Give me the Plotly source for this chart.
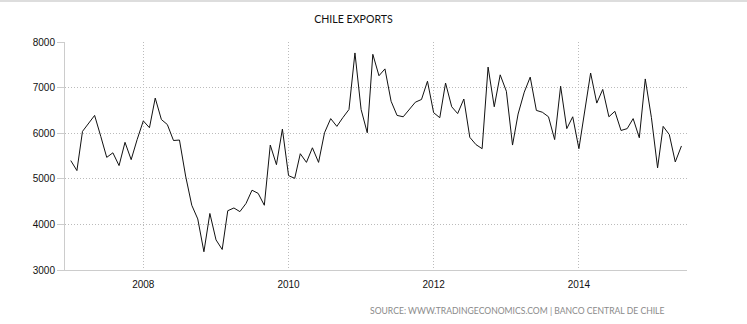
import pandas as pd
import plotly.graph_objects as go

# Monthly exports, USD million, Jan 2007 - Jun 2015
start_month = "2007-01-01"
exports = [
    # 2007
    5400, 5180, 6040, 6220, 6390, 5930, 5470, 5570, 5290, 5800, 5420, 5860,
    # 2008
    6270, 6120, 6770, 6300, 6190, 5840, 5850, 5060, 4420, 4120, 3400, 4240,
    # 2009
    3660, 3450, 4300, 4360, 4280, 4460, 4750, 4680, 4420, 5740, 5310, 6090,
    # 2010
    5070, 5010, 5550, 5360, 5680, 5360, 6010, 6320, 6150, 6340, 6520, 7760,
    # 2011
    6520, 6010, 7730, 7260, 7410, 6700, 6390, 6360, 6520, 6680, 6740, 7140,
    # 2012
    6450, 6340, 7100, 6580, 6430, 6750, 5910, 5750, 5660, 7450, 6580, 7280,
    # 2013
    6920, 5740, 6420, 6900, 7230, 6500, 6460, 6360, 5860, 7030, 6100, 6360,
    # 2014
    5660, 6520, 7320, 6660, 6960, 6360, 6480, 6060, 6100, 6320, 5900, 7190,
    # 2015
    6340, 5240, 6150, 5970, 5370, 5720,
]
months = pd.date_range(start_month, periods=len(exports), freq="MS")

x_ticks = ["2008-01-01", "2010-01-01", "2012-01-01", "2014-01-01"]
x_tick_labels = ["2008", "2010", "2012", "2014"]
y_ticks = [3000, 4000, 5000, 6000, 7000, 8000]

title_text = "CHILE EXPORTS"
source_text = "SOURCE: WWW.TRADINGECONOMICS.COM | BANCO CENTRAL DE CHILE"

tick_font = "Liberation Sans, Arial, sans-serif"
label_font = "Lato, Open Sans, sans-serif"

fig = go.Figure(
    go.Scatter(
        x=months,
        y=exports,
        mode="lines",
        line=dict(color="#111111", width=1),
        hoverinfo="x+y",
    )
)

fig.update_layout(
    width=747,
    height=324,
    margin=dict(l=65, r=60, t=42, b=54),
    paper_bgcolor="white",
    plot_bgcolor="white",
    showlegend=False,
    title=dict(
        text=title_text,
        x=(353.5 - 65) / 622,
        xref="paper",
        xanchor="center",
        y=1 - 19 / 324,
        yanchor="middle",
        font=dict(family=label_font, size=10.6, color="#111111"),
    ),
    font=dict(family=tick_font, size=10, color="#111111"),
)

fig.update_xaxes(
    range=["2006-12-03", "2015-06-29"],
    tickvals=x_ticks,
    ticktext=x_tick_labels,
    showgrid=True,
    gridcolor="#bbbbbb",
    griddash="1px,2px",
    gridwidth=1,
    showline=True,
    linecolor="#cccccc",
    linewidth=1,
    ticks="outside",
    ticklen=5,
    tickcolor="rgba(0,0,0,0)",
    zeroline=False,
    tickfont=dict(family=tick_font, size=10, color="#111111"),
)

fig.update_yaxes(
    range=[3000, 8000],
    tickvals=y_ticks,
    showgrid=True,
    gridcolor="#bbbbbb",
    griddash="1px,2px",
    gridwidth=1,
    showline=True,
    linecolor="#cccccc",
    linewidth=1,
    ticks="outside",
    ticklen=7,
    tickcolor="#cccccc",
    zeroline=False,
    tickfont=dict(family=tick_font, size=10, color="#111111"),
)

fig.add_annotation(
    text=source_text,
    xref="paper",
    yref="paper",
    x=(667 - 65) / 622,
    xanchor="right",
    y=-(311 - 270) / 228,
    yanchor="middle",
    showarrow=False,
    font=dict(family=label_font, size=8.6, color="#8a8a8a"),
)

# thin grey frame line along the top edge of the page
fig.add_shape(
    type="line",
    xref="paper",
    yref="paper",
    x0=-65 / 622,
    x1=(747 - 65) / 622,
    y0=1 + 41 / 228,
    y1=1 + 41 / 228,
    line=dict(color="#dddddd", width=2),
)

fig.write_html("out.html")
